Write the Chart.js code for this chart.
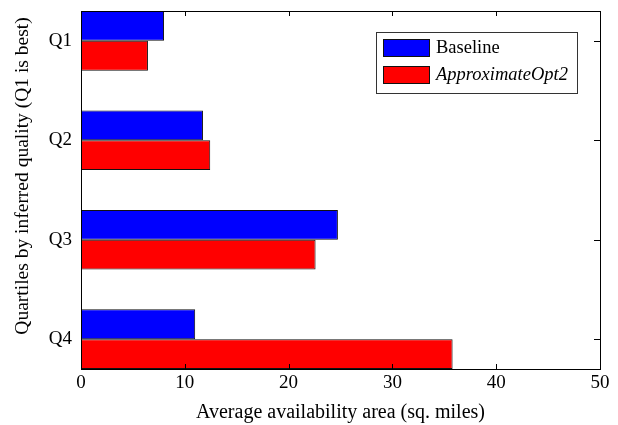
<!DOCTYPE html>
<html>
<head>
<meta charset="utf-8">
<script src="https://cdn.jsdelivr.net/npm/chart.js@4.4.1/dist/chart.umd.min.js"></script>
<style>
  html, body { margin: 0; padding: 0; background: #fff; }
  #wrap { width: 618px; height: 425px; }
</style>
</head>
<body>
<div id="wrap"><canvas id="chart" width="618" height="425"></canvas></div>
<script>
var categories = ['Q1', 'Q2', 'Q3', 'Q4'];
var baseline = [8.0, 11.75, 24.75, 11.0];
var approxOpt2 = [6.45, 12.45, 22.6, 35.8];
var xTicks = [0, 10, 20, 30, 40, 50];
var yTitle = 'Quartiles by inferred quality (Q1 is best)';

var serif = "'Liberation Serif', 'Times New Roman', serif";

function toPoints(values) {
    return values.map(function (v, i) {
        return { x: v, y: i + 1 };
    });
}

// frame, inward ticks, y title and the boxed legend
var framePlugin = {
    id: 'frame',
    afterDraw: function (chart) {
        var ctx = chart.ctx;
        var a = chart.chartArea;
        var xs = chart.scales.x, ys = chart.scales.y;
        ctx.save();
        ctx.strokeStyle = '#000';
        ctx.lineWidth = 1;
        ctx.strokeRect(Math.round(a.left) + 0.5, Math.round(a.top) + 0.5,
            Math.round(a.right - a.left), Math.round(a.bottom - a.top));
        ctx.beginPath();
        xTicks.slice(1, -1).forEach(function (v) {
            var px = Math.round(xs.getPixelForValue(v)) + 0.5;
            ctx.moveTo(px, a.bottom); ctx.lineTo(px, a.bottom - 5);
            ctx.moveTo(px, a.top); ctx.lineTo(px, a.top + 5);
        });
        categories.forEach(function (c, i) {
            var py = Math.round(ys.getPixelForValue(i + 1)) + 0.5;
            ctx.moveTo(a.right, py); ctx.lineTo(a.right - 6, py);
        });
        ctx.stroke();

        // y title, sits a bit above the plot centre like the original
        ctx.save();
        ctx.translate(23, 176);
        ctx.rotate(-Math.PI / 2);
        ctx.fillStyle = '#000';
        ctx.font = '19.5px ' + serif;
        ctx.textAlign = 'center';
        ctx.textBaseline = 'middle';
        ctx.fillText(yTitle, 0, 0);
        ctx.restore();

        // legend
        var lx = 376, ly = 32, lw = 201, lh = 61;
        ctx.fillStyle = '#fff';
        ctx.fillRect(lx, ly, lw, lh);
        ctx.strokeStyle = '#333';
        ctx.strokeRect(lx + 0.5, ly + 0.5, lw, lh);
        chart.data.datasets.forEach(function (ds, i) {
            var sy = 39 + i * 27;
            ctx.fillStyle = ds.backgroundColor;
            ctx.fillRect(383, sy, 46, 17);
            ctx.strokeStyle = '#111';
            ctx.strokeRect(383.5, sy + 0.5, 46, 17);
            ctx.fillStyle = '#000';
            ctx.textBaseline = 'middle';
            ctx.textAlign = 'left';
            ctx.font = (i == 1 ? 'italic ' : '') + '18.5px ' + serif;
            ctx.fillText(ds.label, 436, sy + 9);
        });
        ctx.restore();
    }
};

window.onload = function () {
    var ctx = document.getElementById('chart').getContext('2d');
    new Chart(ctx, {
        type: 'bar',
        data: {
            datasets: [{
                label: 'Baseline',
                data: toPoints(baseline),
                backgroundColor: '#0000ff',
                borderColor: '#111',
                borderWidth: 1
            },
            {
                label: 'ApproximateOpt2',
                data: toPoints(approxOpt2),
                backgroundColor: '#ff0000',
                borderColor: '#111',
                borderWidth: 1
            }]
        },
        options: {
            indexAxis: 'y',
            responsive: false,
            animation: false,
            categoryPercentage: 0.6,
            barPercentage: 1.0,
            layout: { padding: { top: 11, right: 18, left: 0, bottom: 0 } },
            plugins: {
                legend: { display: false },
                tooltip: { enabled: false }
            },
            scales: {
                x: {
                    type: 'linear',
                    min: 0,
                    max: 50,
                    afterBuildTicks: function (scale) {
                        scale.ticks = xTicks.map(function (v) { return { value: v }; });
                    },
                    afterFit: function (scale) { scale.height = 56; },
                    grid: { display: false, drawTicks: false },
                    border: { display: false },
                    ticks: {
                        padding: 3,
                        color: '#000',
                        maxRotation: 0,
                        font: { family: serif, size: 19 }
                    },
                    title: {
                        display: true,
                        text: 'Average availability area (sq. miles)',
                        color: '#000',
                        font: { family: serif, size: 20 },
                        padding: { top: 0, bottom: 0 }
                    }
                },
                y: {
                    type: 'linear',
                    reverse: true,
                    offset: false,
                    min: 0.7,
                    max: 4.3,
                    afterBuildTicks: function (scale) {
                        scale.ticks = categories.map(function (c, i) { return { value: i + 1 }; });
                    },
                    afterFit: function (scale) {
                        scale.width = 81;
                        scale.paddingTop = 0;
                        scale.paddingBottom = 0;
                    },
                    grid: { display: false, drawTicks: false, offset: false },
                    border: { display: false },
                    ticks: {
                        padding: 9,
                        color: '#000',
                        font: { family: serif, size: 19 },
                        callback: function (v) { return categories[v - 1]; }
                    },
                    title: { display: false }
                }
            }
        },
        plugins: [framePlugin]
    });
};
</script>
</body>
</html>
